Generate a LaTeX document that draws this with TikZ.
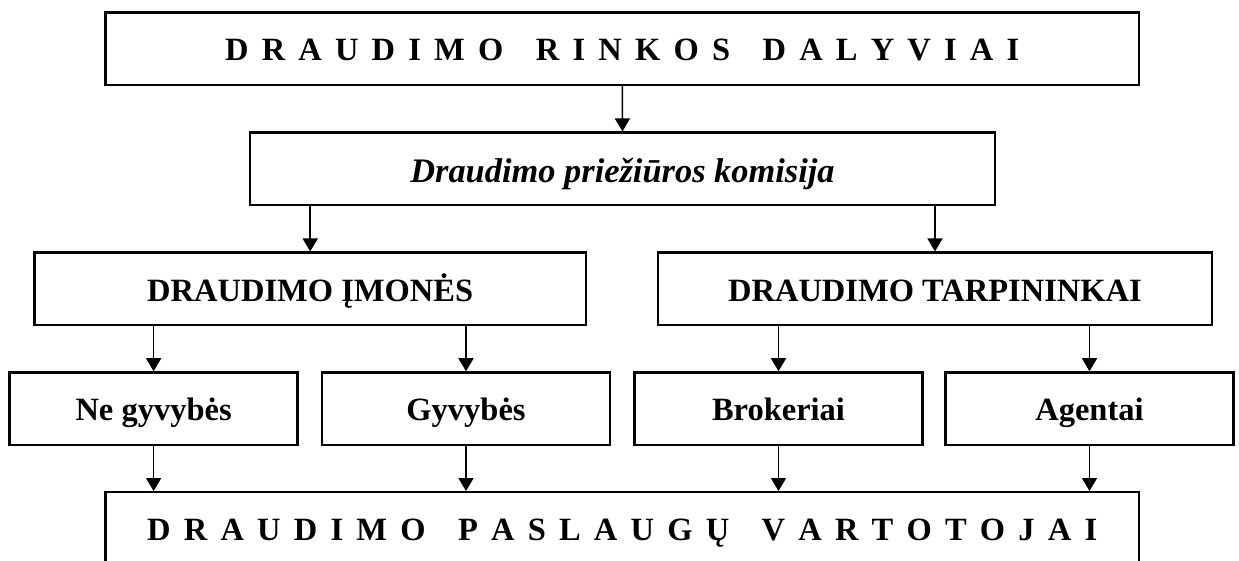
\documentclass[tikz,border=0pt]{standalone}
\usepackage{fontspec}
\setmainfont{Liberation Serif}
\usetikzlibrary{arrows.meta}
\newcommand{\wgap}{\hspace{1em}}
\newcommand{\spaced}[1]{{\spaceskip=6.6pt\relax #1\hspace{6.6pt}}}

\begin{document}
\begin{tikzpicture}[x=0.5pt,y=-0.5pt,
  box/.style={draw,line width=1.2pt,minimum height=36.25pt,inner sep=0pt,
    text height=12.2pt,text depth=0pt,
    font=\bfseries\fontsize{16.25}{19.5}\selectfont},
  boxit/.style={box,text height=13.4pt,
    font=\bfseries\itshape\fontsize{17.2}{20.5}\selectfont},
  arr/.style={line width=0.75pt,-{Triangle[length=6.5pt,width=7.5pt]}}]
\useasboundingbox (0,0) rectangle (1239,561);
\clip (0,0) rectangle (1239,561);
% top level
\node[box,minimum width=516.75pt] (dalyviai) at (622.25,48.6)
  {\spaced{D R A U D I M O\wgap R I N K O S\wgap D A L Y V I A I}};
\node[boxit,minimum width=372.5pt] (komisija) at (622.5,168.9)
  {Draudimo priežiūros komisija};
% second level
\node[box,minimum width=275.8pt] (imones) at (310.2,288.9) {DRAUDIMO ĮMONĖS};
\node[box,minimum width=277pt] (tarpininkai) at (935,288.9) {DRAUDIMO TARPININKAI};
% third level
\node[box,minimum width=144pt] (negyv) at (153.6,408.7) {Ne gyvybės};
\node[box,minimum width=144pt] (gyv) at (466,408.7) {Gyvybės};
\node[box,minimum width=144pt] (brok) at (778.5,408.7) {Brokeriai};
\node[box,minimum width=144pt] (agent) at (1089.5,408.7) {Agentai};
% bottom
\node[box,minimum width=516.75pt] (vartotojai) at (622.25,528.5)
  {\spaced{D R A U D I M O\wgap P A S L A U G Ų\wgap V A R T O T O J A I}};

\draw[arr] (dalyviai.south) -- (komisija.north);
\draw[arr] (komisija.south -| imones.north) -- (imones.north);
\draw[arr] (komisija.south -| tarpininkai.north) -- (tarpininkai.north);
\draw[arr] (imones.south -| negyv.north) -- (negyv.north);
\draw[arr] (imones.south -| gyv.north) -- (gyv.north);
\draw[arr] (tarpininkai.south -| brok.north) -- (brok.north);
\draw[arr] (tarpininkai.south -| agent.north) -- (agent.north);
\foreach \s in {negyv,gyv,brok,agent}{
  \draw[arr] (\s.south) -- (\s.south |- vartotojai.north);
}
\end{tikzpicture}
\end{document}
